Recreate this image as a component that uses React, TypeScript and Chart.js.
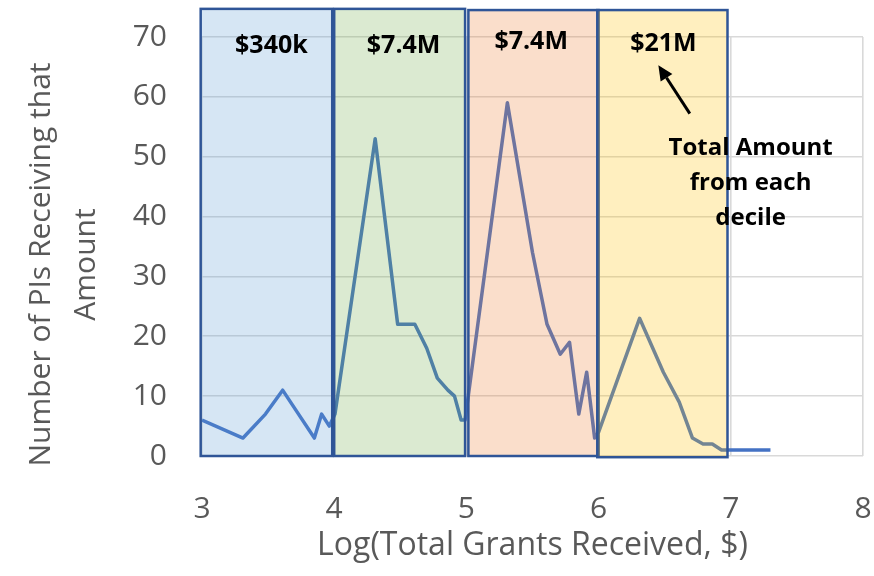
import React, { useEffect, useRef } from "react";
import { Chart, registerables } from "chart.js";

Chart.register(...registerables);

// Histogram of log10(total grants) per PI
const logGrant = [3.0, 3.31, 3.48, 3.61, 3.7, 3.85, 3.905, 3.963, 4.006, 4.31, 4.48, 4.61, 4.7, 4.78, 4.86, 4.91, 4.96, 4.99, 5.31, 5.5, 5.61, 5.71, 5.78, 5.85, 5.91, 5.97, 6.0, 6.31, 6.49, 6.61, 6.71, 6.79, 6.86, 6.93, 7.3];
const piCount = [6, 3, 7, 11, 8, 3, 7, 5, 7, 53, 22, 22, 18, 13, 11, 10, 6, 6, 59, 34, 22, 17, 19, 7, 14, 3, 4, 23, 14, 9, 3, 2, 2, 1, 1];

// Decile boxes (in axis units)
const decileStart = [2.99, 4.0, 5.015, 5.99];
const decileEnd = [3.985, 4.99, 6.0, 6.975];
const decileTop = [74.7, 74.7, 74.5, 74.5];
const decileBottom = [0, 0, 0, -0.2];
const decileColors = ["#5B9BD5", "#70AD47", "#ED7D31", "#FFC000"];

// Decile total amounts
const decileTotals = ["$340k", "$7.4M", "$7.4M", "$21M"];
const totalLabelX = [3.525, 4.525, 5.49, 6.49];
const totalLabelY = [67.3, 67.3, 68.0, 67.7];

// Callout
const calloutLines = ["Total Amount", "from each", "decile"];
const calloutX = 7.15;
const calloutY = [50.3, 44.4, 38.6];
const arrowFrom = { x: 6.69, y: 57.2 };
const arrowTo = { x: 6.452, y: 65.3 };

const xTicks = [3, 4, 5, 6, 7, 8];
const yTicks = [0, 10, 20, 30, 40, 50, 60, 70];
const yTitleLines = ["Number of PIs Receiving that", "Amount"];
const xTitle = "Log(Total Grants Received, $)";

const FONT = "'Open Sans', sans-serif";
const AXIS_COLOR = "#595959";

const overlayPlugin = {
  id: "decileOverlay",
  afterDatasetsDraw(chart: any) {
    const { ctx, scales } = chart;
    const xs = scales.x;
    const ys = scales.y;
    ctx.save();
    for (let i = 0; i < decileStart.length; i++) {
      const x0 = xs.getPixelForValue(decileStart[i]);
      const x1 = xs.getPixelForValue(decileEnd[i]);
      const y0 = ys.getPixelForValue(decileTop[i]);
      const y1 = ys.getPixelForValue(decileBottom[i]);
      ctx.globalAlpha = 0.25;
      ctx.fillStyle = decileColors[i];
      ctx.fillRect(x0, y0, x1 - x0, y1 - y0);
      ctx.globalAlpha = 1;
      ctx.strokeStyle = "#2F5597";
      ctx.lineWidth = 2.5;
      ctx.strokeRect(x0, y0, x1 - x0, y1 - y0);
    }
    // totals
    ctx.fillStyle = "#000000";
    ctx.font = `bold 25px ${FONT}`;
    ctx.textAlign = "center";
    ctx.textBaseline = "alphabetic";
    for (let i = 0; i < decileTotals.length; i++) {
      ctx.fillText(decileTotals[i], xs.getPixelForValue(totalLabelX[i]), ys.getPixelForValue(totalLabelY[i]));
    }
    ctx.font = `bold 24px ${FONT}`;
    for (let i = 0; i < calloutLines.length; i++) {
      ctx.fillText(calloutLines[i], xs.getPixelForValue(calloutX), ys.getPixelForValue(calloutY[i]));
    }
    // arrow
    const ax0 = xs.getPixelForValue(arrowFrom.x);
    const ay0 = ys.getPixelForValue(arrowFrom.y);
    const ax1 = xs.getPixelForValue(arrowTo.x);
    const ay1 = ys.getPixelForValue(arrowTo.y);
    const ang = Math.atan2(ay1 - ay0, ax1 - ax0);
    const headLen = 15;
    const headW = 7;
    const bx = ax1 - headLen * Math.cos(ang);
    const by = ay1 - headLen * Math.sin(ang);
    ctx.strokeStyle = "#000000";
    ctx.lineWidth = 3;
    ctx.beginPath();
    ctx.moveTo(ax0, ay0);
    ctx.lineTo(bx, by);
    ctx.stroke();
    ctx.beginPath();
    ctx.moveTo(ax1, ay1);
    ctx.lineTo(bx + headW * Math.sin(ang), by - headW * Math.cos(ang));
    ctx.lineTo(bx - headW * Math.sin(ang), by + headW * Math.cos(ang));
    ctx.closePath();
    ctx.fillStyle = "#000000";
    ctx.fill();
    ctx.restore();
  },
  afterDraw(chart: any) {
    const { ctx, chartArea } = chart;
    ctx.save();
    ctx.fillStyle = AXIS_COLOR;
    ctx.font = `30px ${FONT}`;
    ctx.textAlign = "center";
    ctx.textBaseline = "middle";
    const cy = (chartArea.top + chartArea.bottom) / 2 + 18;
    const xsPos = [41, 86];
    for (let i = 0; i < yTitleLines.length; i++) {
      ctx.save();
      ctx.translate(xsPos[i], cy);
      ctx.rotate(-Math.PI / 2);
      ctx.fillText(yTitleLines[i], 0, 0);
      ctx.restore();
    }
    ctx.restore();
  },
};

export default function App() {
  const ref = useRef<HTMLCanvasElement>(null);
  useEffect(() => {
    if (!ref.current) return;
    const chart = new Chart(ref.current, {
      type: "scatter",
      data: {
        datasets: [
          {
            data: logGrant.map((x, i) => ({ x, y: piCount[i] })),
            showLine: true,
            borderColor: "#4472C4",
            backgroundColor: "#4472C4",
            borderWidth: 3.5,
            pointRadius: 0,
            tension: 0,
            borderJoinStyle: "round",
          } as any,
        ],
      },
      options: {
        animation: false,
        responsive: false,
        layout: { padding: { top: 37, right: 11, left: 0, bottom: 0 } },
        plugins: { legend: { display: false }, tooltip: { enabled: false } },
        scales: {
          x: {
            type: "linear",
            min: 3,
            max: 8,
            afterBuildTicks: (s: any) => { s.ticks = xTicks.map((v) => ({ value: v })); },
            afterFit: (s: any) => { s.height = 120; s.paddingLeft = 0; s.paddingRight = 0; },
            ticks: { color: AXIS_COLOR, font: { family: FONT, size: 30 }, padding: 35 },
            grid: { color: "#D9D9D9", lineWidth: 1.6, drawTicks: false },
            border: { display: false },
            title: {
              display: true,
              text: xTitle,
              color: AXIS_COLOR,
              font: { family: FONT, size: 32 },
              padding: { top: 0, bottom: 11 },
            },
          },
          y: {
            type: "linear",
            min: 0,
            max: 70,
            afterBuildTicks: (s: any) => { s.ticks = yTicks.map((v) => ({ value: v })); },
            afterFit: (s: any) => { s.width = 202; s.paddingTop = 0; s.paddingBottom = 0; },
            ticks: { color: AXIS_COLOR, font: { family: FONT, size: 30 }, padding: 35 },
            grid: { color: "#D9D9D9", lineWidth: 1.6, drawTicks: false },
            border: { display: false },
          },
        },
      },
      plugins: [overlayPlugin],
    });
    return () => chart.destroy();
  }, []);
  return (
    <div style={{ position: "fixed", left: 0, top: 0, width: 874, height: 576, background: "#fff" }}>
      <canvas ref={ref} width={874} height={576} style={{ display: "block" }} />
    </div>
  );
}
